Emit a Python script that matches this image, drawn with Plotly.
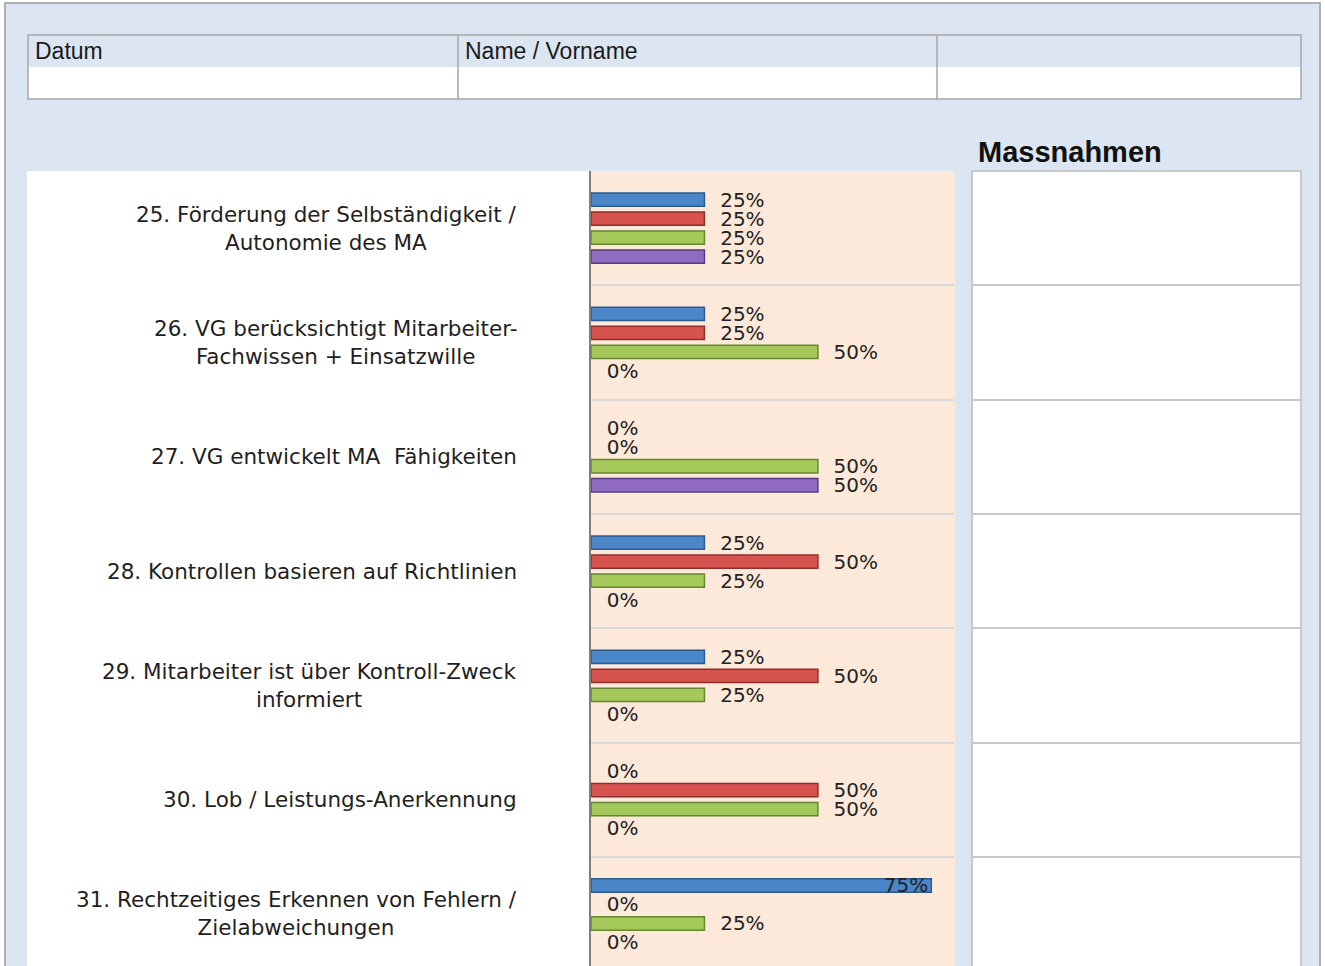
import plotly.graph_objects as go

W, H = 1325, 966

# ---------------- data ----------------
questions = [
    "25. Förderung der Selbständigkeit /<br>Autonomie des MA",
    "26. VG berücksichtigt Mitarbeiter-<br>Fachwissen + Einsatzwille",
    "27. VG entwickelt MA  Fähigkeiten",
    "28. Kontrollen basieren auf Richtlinien",
    "29. Mitarbeiter ist über Kontroll-Zweck<br>informiert",
    "30. Lob / Leistungs-Anerkennung",
    "31. Rechtzeitiges Erkennen von Fehlern /<br>Zielabweichungen",
]
series_names = ["Serie 1", "Serie 2", "Serie 3", "Serie 4"]
serie_1 = [0.25, 0.25, 0.00, 0.25, 0.25, 0.00, 0.75]
serie_2 = [0.25, 0.25, 0.00, 0.50, 0.50, 0.50, 0.00]
serie_3 = [0.25, 0.50, 0.50, 0.25, 0.25, 0.50, 0.25]
serie_4 = [0.25, 0.00, 0.50, 0.00, 0.00, 0.00, 0.00]
series_values = [serie_1, serie_2, serie_3, serie_4]
header_labels = ["Datum", "Name / Vorname", ""]
side_title = "Massnahmen"

# ---------------- styles ----------------
fills = ["#4a86c8", "#d6534f", "#a5c85b", "#8f6cc0"]
edges = ["#2b5a8e", "#8e2f2c", "#66862f", "#563c7e"]
BG = "#dce6f2"


def px(x):
    return x / W


def py(y):
    return 1 - y / H


fig = go.Figure()

for name, vals, fc, lc in zip(series_names, series_values, fills, edges):
    pos = ["inside" if v > 0.7 else "outside" for v in vals]
    lw = [1.5 if v > 0 else 0 for v in vals]
    fig.add_trace(go.Bar(
        y=questions, x=vals, orientation="h", name=name,
        marker=dict(color=fc, line=dict(color=lc, width=lw)),
        texttemplate="\u00a0\u00a0%{x:.0%}",
        textposition=pos, insidetextanchor="end", textangle=0,
        constraintext="none", cliponaxis=False,
        outsidetextfont=dict(family="DejaVu Sans", size=20, color="#222222"),
        insidetextfont=dict(family="DejaVu Sans", size=20, color="#222222"),
        hoverinfo="x+name", showlegend=False,
        xaxis="x", yaxis="y",
    ))

# invisible helper so the "Massnahmen" rows get their category grid
fig.add_trace(go.Scatter(
    y=questions, x=[0] * len(questions), mode="markers",
    marker=dict(opacity=0), hoverinfo="skip", showlegend=False,
    xaxis="x2", yaxis="y2",
))

shapes = [
    # outer light-blue sheet
    dict(type="rect", xref="paper", yref="paper", x0=px(5), x1=px(1320), y0=py(975), y1=py(3),
         fillcolor=BG, line=dict(color="#b0b0b0", width=2), layer="below"),
    # header table rows
    dict(type="rect", xref="paper", yref="paper", x0=px(28), x1=px(1301), y0=py(67), y1=py(35),
         fillcolor=BG, line=dict(width=0), layer="below"),
    dict(type="rect", xref="paper", yref="paper", x0=px(28), x1=px(1301), y0=py(99), y1=py(67),
         fillcolor="white", line=dict(width=0), layer="below"),
    dict(type="rect", xref="paper", yref="paper", x0=px(28), x1=px(1301), y0=py(99), y1=py(35),
         fillcolor="rgba(0,0,0,0)", line=dict(color="#a6a6a6", width=1.5), layer="below"),
    dict(type="line", xref="paper", yref="paper", x0=px(458), x1=px(458), y0=py(99), y1=py(35),
         line=dict(color="#a6a6a6", width=1.5), layer="below"),
    dict(type="line", xref="paper", yref="paper", x0=px(937), x1=px(937), y0=py(99), y1=py(35),
         line=dict(color="#a6a6a6", width=1.5), layer="below"),
    # left white question panel
    dict(type="rect", xref="paper", yref="paper", x0=px(27), x1=px(590), y0=py(975), y1=py(171),
         fillcolor="white", line=dict(width=0), layer="below"),
    # peach chart area
    dict(type="rect", xref="paper", yref="paper", x0=px(590), x1=px(955), y0=py(975), y1=py(171),
         fillcolor="#fde9d9", line=dict(width=0), layer="below"),
    # Massnahmen box
    dict(type="rect", xref="paper", yref="paper", x0=px(972), x1=px(1301), y0=py(975), y1=py(171),
         fillcolor="white", line=dict(color="#c8c8c8", width=2), layer="below"),
]

annotations = []
for xpos, lab in zip([33, 463, 942], header_labels):
    if lab:
        annotations.append(dict(xref="paper", yref="paper", x=px(xpos), y=py(51), text=lab,
                                xanchor="left", yanchor="middle", showarrow=False,
                                font=dict(family="Liberation Sans", size=23, color="#1a1a1a")))
annotations.append(dict(xref="paper", yref="paper", x=px(976), y=py(152), text="<b>%s</b>" % side_title,
                        xanchor="left", yanchor="middle", showarrow=False,
                        font=dict(family="Liberation Sans", size=29, color="#111111")))
for q in questions:
    annotations.append(dict(xref="paper", yref="y", x=px(519), y=q, text=q,
                            xanchor="right", yanchor="middle", align="center", showarrow=False,
                            font=dict(family="DejaVu Sans", size=21.5, color="#1f1f1f")))

fig.update_layout(
    width=W, height=H,
    margin=dict(l=0, r=0, t=0, b=0),
    paper_bgcolor="white", plot_bgcolor="rgba(0,0,0,0)",
    barmode="group", bargap=0.335, bargroupgap=0.3,
    shapes=shapes, annotations=annotations,
    xaxis=dict(domain=[px(591), px(954)], range=[0, 0.8], visible=False, anchor="y"),
    yaxis=dict(domain=[0, py(171)], range=[6.455, -0.5], type="category",
               categoryorder="array", categoryarray=questions,
               showticklabels=False, ticks="", showline=True, linecolor="#7f7f7f", linewidth=2,
               showgrid=True, gridcolor="#d8d8d8", gridwidth=1.5, tickson="boundaries",
               zeroline=False, anchor="x", fixedrange=True),
    xaxis2=dict(domain=[px(972), px(1301)], range=[0, 1], visible=False, anchor="y2"),
    yaxis2=dict(domain=[0, py(171)], matches="y", type="category",
                categoryorder="array", categoryarray=questions,
                showticklabels=False, ticks="", showline=False,
                showgrid=True, gridcolor="#c8c8c8", gridwidth=2, tickson="boundaries",
                zeroline=False, anchor="x2"),
)

fig.write_html("out.html")
